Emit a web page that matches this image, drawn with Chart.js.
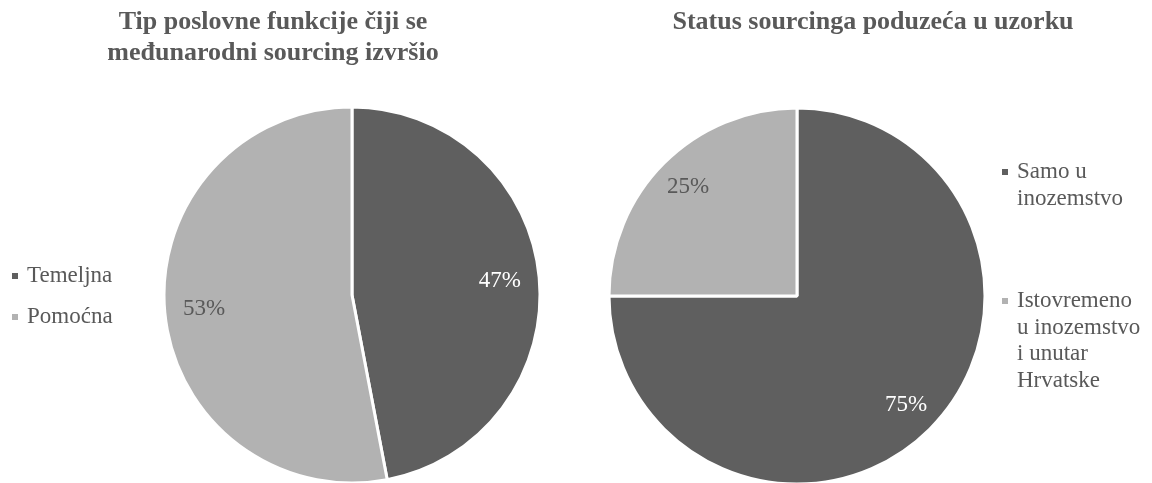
<!DOCTYPE html>
<html><head><meta charset="utf-8">
<script src="https://cdn.jsdelivr.net/npm/chart.js@4.4.1/dist/chart.umd.min.js"></script>
<style>
html,body{margin:0;padding:0;background:#fff;width:1152px;height:483px;overflow:hidden}
.box{position:absolute;top:0;width:576px;height:483px}
canvas{display:block}
</style></head><body>
<div class="box" style="left:0"><canvas id="c1" width="576" height="483"></canvas></div>
<div class="box" style="left:576px"><canvas id="c2" width="576" height="483"></canvas></div>
<script>
// ---- data ----
const titleLeft = ["Tip poslovne funkcije čiji se", "međunarodni sourcing izvršio"];
const categoriesLeft = ["Temeljna", "Pomoćna"];
const valuesLeft = [47, 53];

const titleRight = ["Status sourcinga poduzeća u uzorku"];
const categoriesRight = ["Samo u inozemstvo", "Istovremeno u inozemstvo i unutar Hrvatske"];
const legendLinesRight = [["Samo u", "inozemstvo"], ["Istovremeno", "u inozemstvo", "i unutar", "Hrvatske"]];
const valuesRight = [75, 25];

// ---- style ----
const sliceColors = ["#5f5f5f", "#b2b2b2"];
const labelColors = ["#ffffff", "#595959"];
const textColor = "#595959";
const serif = '"Liberation Serif", "Times New Roman", serif';

function overlay(o) {
  return {
    id: 'overlay',
    afterDatasetsDraw(chart) {
      const ctx = chart.ctx;
      ctx.save();
      // percentage labels
      const meta = chart.getDatasetMeta(0);
      const vals = chart.data.datasets[0].data;
      const total = vals.reduce((a, b) => a + b, 0);
      ctx.font = '23px ' + serif;
      ctx.textAlign = 'center';
      ctx.textBaseline = 'middle';
      meta.data.forEach((arc, i) => {
        const p = arc.getProps(['x', 'y', 'startAngle', 'endAngle', 'outerRadius'], true);
        const mid = (p.startAngle + p.endAngle) / 2;
        const r = p.outerRadius * o.labelK;
        ctx.fillStyle = labelColors[i];
        ctx.fillText(Math.round(vals[i] / total * 100) + '%', p.x + Math.cos(mid) * r, p.y + Math.sin(mid) * r);
      });
      // title
      ctx.fillStyle = textColor;
      ctx.font = 'bold 26px ' + serif;
      ctx.textAlign = 'center';
      ctx.textBaseline = 'alphabetic';
      o.title.forEach((t, i) => ctx.fillText(t, o.titleX, o.titleY + i * 31));
      // legend
      ctx.font = '23px ' + serif;
      ctx.textAlign = 'left';
      o.legend.forEach((item, i) => {
        ctx.fillStyle = sliceColors[i];
        ctx.fillRect(o.markerX, item.y - 9, 6, 6);
        ctx.fillStyle = textColor;
        item.lines.forEach((ln, j) => ctx.fillText(ln, o.textX, item.y + j * 26.7));
      });
      ctx.restore();
    }
  };
}

function makePie(id, labels, values, padding, o) {
  return new Chart(document.getElementById(id), {
    type: 'pie',
    data: {
      labels: labels,
      datasets: [{
        data: values,
        backgroundColor: sliceColors,
        borderColor: '#ffffff',
        borderWidth: 3,
        radius: 188,
        clip: false
      }]
    },
    options: {
      responsive: false,
      animation: false,
      devicePixelRatio: 1,
      layout: { padding: padding },
      plugins: { legend: { display: false }, tooltip: { enabled: false }, title: { display: false } }
    },
    plugins: [overlay(o)]
  });
}

makePie('c1', categoriesLeft, valuesLeft, { left: 128, right: 0, top: 107, bottom: 0 }, {
  labelK: 0.79,
  title: titleLeft, titleX: 273, titleY: 29,
  markerX: 12, textX: 27,
  legend: [{ y: 282, lines: [categoriesLeft[0]] }, { y: 323, lines: [categoriesLeft[1]] }]
});

makePie('c2', categoriesRight, valuesRight, { left: 0, right: 134, top: 109, bottom: 0 }, {
  labelK: 0.82,
  title: titleRight, titleX: 297, titleY: 29,
  markerX: 426, textX: 441,
  legend: [{ y: 178, lines: legendLinesRight[0] }, { y: 307, lines: legendLinesRight[1] }]
});
</script>
</body></html>
